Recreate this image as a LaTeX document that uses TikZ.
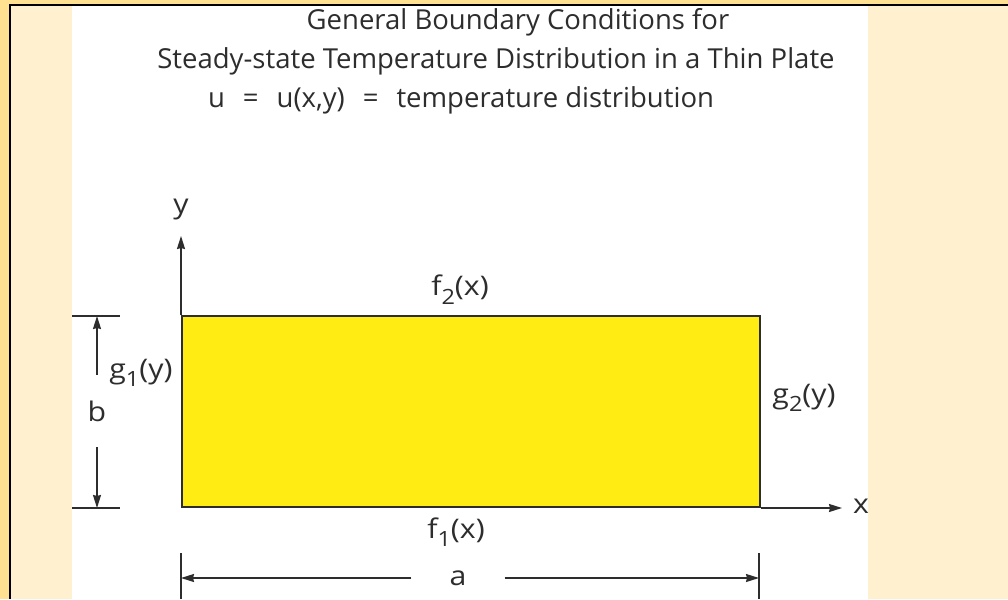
\documentclass[tikz,border=0pt]{standalone}
\usepackage{fontspec}
\setmainfont{Open Sans}
\newfontfamily\lblfont{Open Sans}[FakeStretch=1.12]
\usetikzlibrary{arrows.meta,positioning}
\definecolor{bandyellow}{RGB}{255,225,145}
\definecolor{panelcream}{RGB}{255,240,208}
\definecolor{platefill}{RGB}{255,236,18}
\definecolor{inkgray}{RGB}{45,45,45}
\newcommand{\lsub}[1]{\raisebox{-0.6ex}{\fontsize{21}{21}\selectfont #1}}
\newcommand{\eqgap}{\hspace{18pt}=\hspace{18pt}}

\begin{document}
\begin{tikzpicture}[x=1pt, y=-1pt,
  >={Stealth[length=13pt,width=8pt,inset=1pt]},
  every node/.style={text=inkgray, inner sep=0pt},
  title/.style={font=\fontsize{27.5}{32}\selectfont},
  lbl/.style={font=\lblfont\fontsize{27}{32}\selectfont},
  thinline/.style={draw=inkgray, line width=1.6pt},
  dimarr/.style={->, draw=inkgray, line width=1.6pt},
  plate/.style={draw=inkgray, fill=platefill, line width=2pt},
]
\useasboundingbox (0,0) rectangle (1008,599);

% Background and frame
\fill[bandyellow] (0,0) rectangle (1008,599);
\fill[panelcream] (10,5) rectangle (1008,599);
\draw[black, line width=2.5pt] (10,599) -- (10,5) -- (1008,5);
\fill[white] (72,6.3) rectangle (868,599);

% Titles
\node[title] (title1) at (518,22) {General Boundary Conditions for};
\node[title] (title2) at (496,61) {Steady-state Temperature Distribution in a Thin Plate};
\node[title] (title3) at (461,100) {u\eqgap u(x,y)\eqgap temperature distribution};

% Plate
\coordinate (o) at (181,508);
\node[plate, anchor=south west, minimum width=578pt, minimum height=191pt] (rect) at (o) {};

% Axes
\coordinate (ytip) at (181,236);
\coordinate (xtip) at (842,508);
\draw[dimarr] (rect.north west) -- (ytip);
\draw[dimarr] (rect.south east) -- (xtip);
\node[lbl] (ylab) at (181,210) {y};
\node[lbl] (xlab) at (861,506) {x};

% Boundary labels
\node[lbl] (f2) at (460,290) {f\lsub{2}(x)};
\node[lbl] (f1) at (456,532) {f\lsub{1}(x)};
\node[lbl] (g1) at (141,373) {g\lsub{1}(y)};
\node[lbl] (g2) at (804,398) {g\lsub{2}(y)};

% Dimension b
\coordinate (btopl) at (72,316);
\coordinate (btopr) at (120,316);
\coordinate (bbotl) at (72,508);
\coordinate (bbotr) at (120,508);
\coordinate (btop) at (97,316);
\coordinate (bbot) at (97,508);
\draw[thinline] (btopl) -- (btopr);
\draw[thinline] (bbotl) -- (bbotr);
\node[lbl, minimum height=72pt] (bdim) at (97,411) {b};
\draw[dimarr] (bdim.north) -- (btop);
\draw[dimarr] (bdim.south) -- (bbot);

% Dimension a
\coordinate (aleft) at (181,578);
\coordinate (aright) at (759,578);
\coordinate (atickl) at (181,553);
\coordinate (atickr) at (759,553);
\coordinate (atickl2) at (181,599);
\coordinate (atickr2) at (759,599);
\draw[thinline] (atickl) -- (atickl2);
\draw[thinline] (atickr) -- (atickr2);
\node[lbl, minimum width=93pt] (adim) at (458,578) {a};
\draw[dimarr] (adim.west) -- (aleft);
\draw[dimarr] (adim.east) -- (aright);
\end{tikzpicture}
\end{document}
